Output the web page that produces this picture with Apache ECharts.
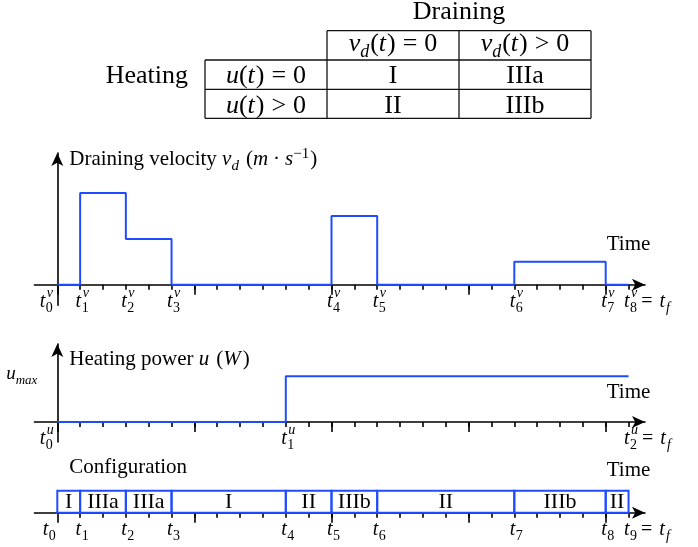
<!DOCTYPE html>
<html><head><meta charset="utf-8">
<script src="https://cdn.jsdelivr.net/npm/echarts@6/dist/echarts.min.js"></script>
<style>html,body{margin:0;padding:0;background:#fff}#c{width:698px;height:547px}</style>
</head><body><div id="c"></div>
<script>
// ---------------- data ----------------
const minorTicks = [1,2,3,4,5,6,7,8,9,10,11,12,13,14,15,16,17,18,19,20,21,22,23,24,25];
const majorTicks = [0,6,12,18,24];
const drainTimes  = [0, 1, 3, 5, 12, 14, 20, 24, 25];
const drainValues = [0, 4, 2, 0, 3, 0, 1, 0, 0];
const heatTimes   = [0, 10, 25];
const heatValues  = [0, 2, 2];
const uMax = 2;
const configBounds = [0, 1, 3, 5, 10, 12, 14, 20, 24, 25];
const configNames  = ['I', 'IIIa', 'IIIa', 'I', 'II', 'IIIb', 'II', 'IIIb', 'II'];
const tableColRel = ['=', '>'];
const tableRowRel = ['=', '>'];
const tableCells  = [['I', 'IIIa'], ['II', 'IIIb']];

// ---------------- style ----------------
const SERIF = '"Liberation Serif","Times New Roman",serif';
const BLUE = '#1f4cff';
const INK = '#000';
const X_MIN = -1, X_MAX = 25.72;

function xMain(g) {
  return {type:'value', gridIndex:g, min:X_MIN, max:X_MAX, position:'bottom',
    axisLine:{show:true, onZero:true, onZeroAxisIndex:g, symbol:['none','arrow'], symbolSize:[9,13],
      lineStyle:{color:INK, width:1.6}},
    axisTick:{show:true, customValues:minorTicks, length:5, lineStyle:{color:INK, width:1.6}},
    axisLabel:{show:false}, splitLine:{show:false}};
}
function xMajor(g) {
  return {type:'value', gridIndex:g, min:X_MIN, max:X_MAX, position:'bottom',
    axisLine:{show:true, onZero:true, onZeroAxisIndex:g, lineStyle:{opacity:0}},
    axisTick:{show:true, customValues:majorTicks, length:10, lineStyle:{color:INK, width:1.6}},
    axisLabel:{show:false}, splitLine:{show:false}};
}
function yAx(g, min, max, show) {
  return {type:'value', gridIndex:g, min:min, max:max, show:show,
    axisLine:{show:true, onZero:true, onZeroAxisIndex:2*g, symbol:['none','arrow'], symbolSize:[9,13],
      lineStyle:{color:INK, width:1.6}},
    axisTick:{show:false}, axisLabel:{show:false}, splitLine:{show:false}};
}

const option = {
  animation:false,
  backgroundColor:'#fff',
  grid:[
    {left:34.45, right:53, top:153, height:152.3},
    {left:34.45, right:53, top:344, height:97.9},
    {left:34.45, right:53, top:490.7, height:22}
  ],
  xAxis:[xMain(0), xMajor(0), xMain(1), xMajor(1), xMain(2), xMajor(2)],
  yAxis:[yAx(0,-0.9,5.75,true), yAx(1,-0.875,3.41,true), yAx(2,0,1,false)],
  series:[
    {type:'line', xAxisIndex:0, yAxisIndex:0, step:'end', symbol:'none', z:5,
      lineStyle:{color:BLUE, width:2},
      data: drainTimes.map((t,i)=>[t, drainValues[i]])},
    {type:'line', xAxisIndex:2, yAxisIndex:1, step:'end', symbol:'none', z:5,
      lineStyle:{color:BLUE, width:2},
      data: heatTimes.map((t,i)=>[t, heatValues[i]])},
    {type:'custom', xAxisIndex:4, yAxisIndex:2, clip:false, z:5,
      encode:{x:[0,1]},
      data: configNames.map((n,i)=>[configBounds[i], configBounds[i+1]]),
      renderItem:function(params, api){
        const a = api.coord([api.value(0), 1]);
        const b = api.coord([api.value(1), 0]);
        return {type:'group', children:[
          {type:'rect', shape:{x:a[0], y:a[1], width:b[0]-a[0], height:b[1]-a[1]},
            style:{fill:'none', stroke:BLUE, lineWidth:2}},
          {type:'text', x:(a[0]+b[0])/2, y:(a[1]+b[1])/2 + 1,
            style:{text:configNames[params.dataIndex], font:'22px '+SERIF, fill:INK,
              align:'center', verticalAlign:'middle'}}
        ]};
      }}
  ]
};

const chart = echarts.init(document.getElementById('c'), null, {renderer:'canvas'});
chart.setOption(option);

// ---------------- text helpers ----------------
const mctx = document.createElement('canvas').getContext('2d');
function fnt(fs, it){ return (it ? 'italic ' : '') + fs + 'px ' + SERIF; }
function tw(t, fs, it){ mctx.font = fnt(fs, it); return mctx.measureText(t).width; }
const els = [];
function txt(t, x, baseline, fs, it){
  els.push({type:'text', silent:true, x:x, y:baseline - 0.3375*fs,
    style:{text:t, font:fnt(fs,it), fill:INK, align:'left', verticalAlign:'middle'}});
}
// parts: {t, fs, it, dy, gap} ; laid out left to right
function run(parts, x, baseline, align){
  const ws = parts.map(p => tw(p.t, p.fs, p.it) + (p.gap||0));
  const total = ws.reduce((a,b)=>a+b, 0);
  let cx = align === 'center' ? x - total/2 : (align === 'right' ? x - total : x);
  parts.forEach((p,i) => { txt(p.t, cx + (p.pre||0), baseline + (p.dy||0), p.fs, p.it); cx += ws[i]; });
  return cx;
}
function tickLabel(x, y0, sub, sup, suffix, shift){
  const F = 20, S = 14;
  const tR = x + 1 + shift;
  const tW = tw('t', F, true);
  txt('t', tR - tW, y0 + 24, F, true);
  let w = tw(sub, S, false);
  if (sup) { txt(sup, tR + 1.5, y0 + 13, S, true); w = Math.max(w, tw(sup, S, true) + 1); }
  txt(sub, tR + 0.5, y0 + 28, S, false);
  if (suffix) {
    run([{t:'=', fs:F, it:false, gap:7}, {t:'t', fs:F, it:true, gap:1}, {t:'f', fs:S, it:true, dy:4}],
      tR + 0.5 + w + 4, y0 + 24, 'left');
  }
}
function px(g, t, v){ return chart.convertToPixel({xAxisIndex:2*g, yAxisIndex:g}, [t, v]); }

// tick labels
drainTimes.forEach((t,i) => {
  const p = px(0, t, 0);
  tickLabel(p[0], p[1], String(i), 'v', i === drainTimes.length-1, t === 0 ? -13 : 0);
});
heatTimes.forEach((t,i) => {
  const p = px(1, t, 0);
  tickLabel(p[0], p[1], String(i), 'u', i === heatTimes.length-1, t === 0 ? -13 : 0);
});
configBounds.forEach((t,i) => {
  const p = px(2, t, 0);
  tickLabel(p[0], p[1], String(i), null, i === configBounds.length-1, t === 0 ? -10 : 0);
});

// axis titles
const TF = 21, TS = 15;
const x0 = px(0, 0, 0)[0];
run([{t:'Draining velocity ', fs:TF}, {t:'v', fs:TF, it:true}, {t:'d', fs:TS, it:true, dy:4, gap:7},
     {t:'(', fs:TF}, {t:'m', fs:TF, it:true, gap:5}, {t:'·', fs:TF, gap:5}, {t:'s', fs:TF, it:true},
     {t:'−1', fs:TS, dy:-8, gap:1}, {t:')', fs:TF}], x0 + 12, 166.7, 'left');
run([{t:'Heating power ', fs:TF}, {t:'u', fs:TF, it:true, gap:7}, {t:'(', fs:TF}, {t:'W', fs:TF, it:true, gap:2},
     {t:')', fs:TF}], x0 + 12, 366.7, 'left');
run([{t:'Configuration', fs:TF}], x0 + 12, 475, 'left');
const xEnd = px(0, 25, 0)[0];
run([{t:'Time', fs:TF}], xEnd, 251.7, 'center');
run([{t:'Time', fs:TF}], xEnd, 400, 'center');
run([{t:'Time', fs:TF}], xEnd, 478, 'center');
// u_max
const pu = px(1, 0, uMax);
run([{t:'u', fs:19, it:true}, {t:'max', fs:13, it:true, dy:4}], pu[0] - 20, pu[1] + 4.5, 'right');

// ---------------- table ----------------
const colX = [205, 327, 459, 591];
const rowY = [30.7, 60, 89.3, 118.3];
const LS = {stroke:'#111', lineWidth:1.3};
function ln(x1,y1,x2,y2){ els.push({type:'line', silent:true, shape:{x1,y1,x2,y2}, style:LS}); }
ln(colX[1], rowY[0], colX[3], rowY[0]);
ln(colX[0], rowY[1], colX[3], rowY[1]);
ln(colX[0], rowY[2], colX[3], rowY[2]);
ln(colX[0], rowY[3], colX[3], rowY[3]);
ln(colX[0], rowY[1], colX[0], rowY[3]);
ln(colX[1], rowY[0], colX[1], rowY[3]);
ln(colX[2], rowY[0], colX[2], rowY[3]);
ln(colX[3], rowY[0], colX[3], rowY[3]);
const BF = 26, BS = 18;
run([{t:'Draining', fs:BF}], (colX[1]+colX[3])/2, 21, 'center');
run([{t:'Heating', fs:BF}], 188, 85, 'right');
tableColRel.forEach((r, j) => {
  run([{t:'v', fs:BF, it:true}, {t:'d', fs:BS, it:true, dy:5, gap:1}, {t:'(', fs:BF}, {t:'t', fs:BF, it:true, gap:1},
       {t:')', fs:BF, gap:7}, {t:r, fs:BF, gap:7}, {t:'0', fs:BF}], (colX[j+1]+colX[j+2])/2, 53.3, 'center');
});
tableRowRel.forEach((r, i) => {
  const base = [85, 114.5][i];
  run([{t:'u', fs:BF, it:true}, {t:'(', fs:BF}, {t:'t', fs:BF, it:true, gap:1},
       {t:')', fs:BF, gap:7}, {t:r, fs:BF, gap:7}, {t:'0', fs:BF}], (colX[0]+colX[1])/2, base, 'center');
  tableCells[i].forEach((c, j) => {
    run([{t:c, fs:BF}], (colX[j+1]+colX[j+2])/2, base, 'center');
  });
});

chart.setOption({graphic:{elements:els}});
</script></body></html>
